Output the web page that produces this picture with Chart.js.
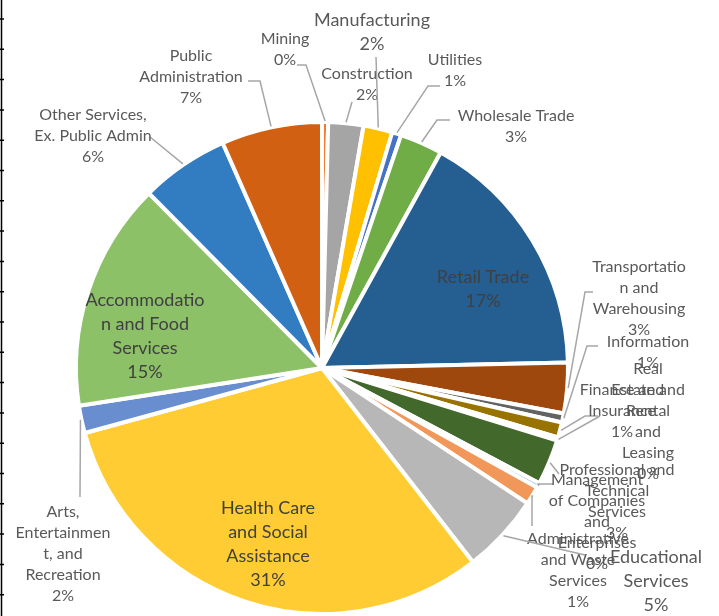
<!DOCTYPE html>
<html>
<head>
<meta charset="utf-8">
<script src="https://cdn.jsdelivr.net/npm/chart.js@4/dist/chart.umd.min.js"></script>
<style>
  body { margin: 0; background: #fff; }
  #wrap { width: 719px; height: 616px; }
</style>
</head>
<body>
<div id="wrap"><canvas id="pieChart" width="719" height="616"></canvas></div>
<script>
// share of employment by industry
const industries = [
  'Mining', 'Construction', 'Manufacturing', 'Utilities', 'Wholesale Trade',
  'Retail Trade', 'Transportation and Warehousing', 'Information', 'Finance and Insurance',
  'Real Estate and Rental and Leasing', 'Professional and Technical Services',
  'Management of Companies and Enterprises', 'Administrative and Waste Services',
  'Educational Services', 'Health Care and Social Assistance',
  'Arts, Entertainment, and Recreation', 'Accommodation and Food Services',
  'Other Services, Ex. Public Admin', 'Public Administration'
];
const shares = [0.4, 2.3, 1.9, 0.6, 2.8, 16.6, 3.3, 0.6, 1.0, 0.2, 3.0, 0.3, 1.2, 5.2, 31.2, 1.8, 15.0, 5.8, 6.6];

// how Excel wrapped each data label
const wrapped = [
  ['Mining'], ['Construction'], ['Manufacturing'], ['Utilities'], ['Wholesale Trade'],
  ['Retail Trade'], ['Transportatio', 'n and', 'Warehousing'], ['Information'],
  ['Finance and', 'Insurance'], ['Real', 'Estate and', 'Rental', 'and', 'Leasing'],
  ['Professional and', 'Technical', 'Services'], ['Management', 'of Companies', 'and', 'Enterprises'],
  ['Administrative', 'and Waste', 'Services'], ['Educational', 'Services'],
  ['Health Care', 'and Social', 'Assistance'], ['Arts,', 'Entertainmen', 't, and', 'Recreation'],
  ['Accommodatio', 'n and Food', 'Services'], ['Other Services,', 'Ex. Public Admin'],
  ['Public', 'Administration']
];

const colors = [
  '#ED7D31', '#A5A5A5', '#FFC000', '#4472C4', '#70AD47', '#255E91', '#9E480E', '#636363',
  '#997300', '#264478', '#43682B', '#7CAFDD', '#F1975A', '#B7B7B7', '#FFCD33', '#698ED0',
  '#8CC168', '#327DC2', '#D26012'
];

// label block centre relative to pie centre, big font flag, leader elbow points (relative)
const labelLayout = [
  { d: [-37, -319], big: false, lead: [[-25, -303], [-16, -303]] },
  { d: [45, -284], big: false, lead: [[30, -266]] },
  { d: [50, -336], big: true, lead: [[54, -311]] },
  { d: [133, -298], big: false, lead: [[118, -282], [106, -282]] },
  { d: [194, -242], big: false, lead: [[128, -248], [115, -248]] },
  { d: [161, -79], big: true, lead: null },
  { d: [317, -70], big: false, lead: [[271, -76], [263, -76]] },
  { d: [326, -16], big: false, lead: [[276, -22], [265, -22]] },
  { d: [300, 43], big: false, lead: [[276, 48], [263, 48]] },
  { d: [326, 53], big: false, lead: [[278, 48]] },
  { d: [295, 133], big: false, lead: [[237, 106]] },
  { d: [275, 154], big: false, lead: [[231, 116], [216, 116]] },
  { d: [256, 202], big: false, lead: [[210, 158], [210, 128]] },
  { d: [334, 213], big: true, lead: [[263, 187]] },
  { d: [-54, 176], big: true, lead: null },
  { d: [-259, 186], big: false, lead: [[-242, 129]] },
  { d: [-177, -32], big: true, lead: null },
  { d: [-229, -232], big: false, lead: [[-172, -231]] },
  { d: [-131, -291], big: false, lead: [[-74, -287], [-62, -287]] }
];
const insideLabels = [5, 14, 16];

const total = shares.reduce((a, b) => a + b, 0);

// data labels with leader lines, drawn after the arcs
const pieLabels = {
  id: 'pieLabels',
  afterDraw(chart) {
    const ctx = chart.ctx;
    const meta = chart.getDatasetMeta(0);
    ctx.save();
    meta.data.forEach((arc, i) => {
      const p = arc.getProps(['x', 'y', 'startAngle', 'endAngle', 'outerRadius'], true);
      const mid = (p.startAngle + p.endAngle) / 2;
      const lay = labelLayout[i];
      if (lay.lead) {
        ctx.strokeStyle = '#A6A6A6';
        ctx.lineWidth = 1.5;
        ctx.beginPath();
        lay.lead.forEach((pt, k) => {
          const fn = k === 0 ? 'moveTo' : 'lineTo';
          ctx[fn](p.x + pt[0], p.y + pt[1]);
        });
        ctx.lineTo(p.x + Math.cos(mid) * (p.outerRadius + 1), p.y + Math.sin(mid) * (p.outerRadius + 1));
        ctx.stroke();
      }
      const pct = Math.round(shares[i] / total * 100) + '%';
      const lines = wrapped[i].concat([pct]);
      const size = lay.big ? 18 : 16;
      const lh = lay.big ? 24 : 21;
      ctx.font = size + 'px Lato';
      ctx.fillStyle = insideLabels.includes(i) ? '#404040' : '#595959';
      ctx.textAlign = 'center';
      ctx.textBaseline = 'middle';
      const cx = p.x + lay.d[0];
      const top = p.y + lay.d[1] - (lines.length - 1) * lh / 2;
      lines.forEach((t, k) => ctx.fillText(t, cx, top + k * lh));
    });
    ctx.restore();
  }
};

// page edge from the source document (ruler line on the left)
const pageEdge = {
  id: 'pageEdge',
  afterDraw(chart) {
    const ctx = chart.ctx;
    ctx.save();
    ctx.strokeStyle = '#000';
    ctx.lineWidth = 1.5;
    ctx.beginPath();
    ctx.moveTo(1.5, 0);
    ctx.lineTo(1.5, chart.height);
    for (let y = 19; y < chart.height; y += 30.3) {
      ctx.moveTo(0, y);
      ctx.lineTo(4, y);
    }
    ctx.stroke();
    ctx.restore();
  }
};

new Chart(document.getElementById('pieChart').getContext('2d'), {
  type: 'pie',
  data: {
    labels: industries,
    datasets: [{
      data: shares,
      backgroundColor: colors,
      borderColor: '#fff',
      borderWidth: 4
    }]
  },
  options: {
    responsive: false,
    animation: false,
    layout: { padding: { left: 74, right: 149, top: 120, bottom: 0 } },
    plugins: {
      legend: { display: false },
      tooltip: { enabled: false }
    }
  },
  plugins: [pieLabels, pageEdge]
});
</script>
</body>
</html>
